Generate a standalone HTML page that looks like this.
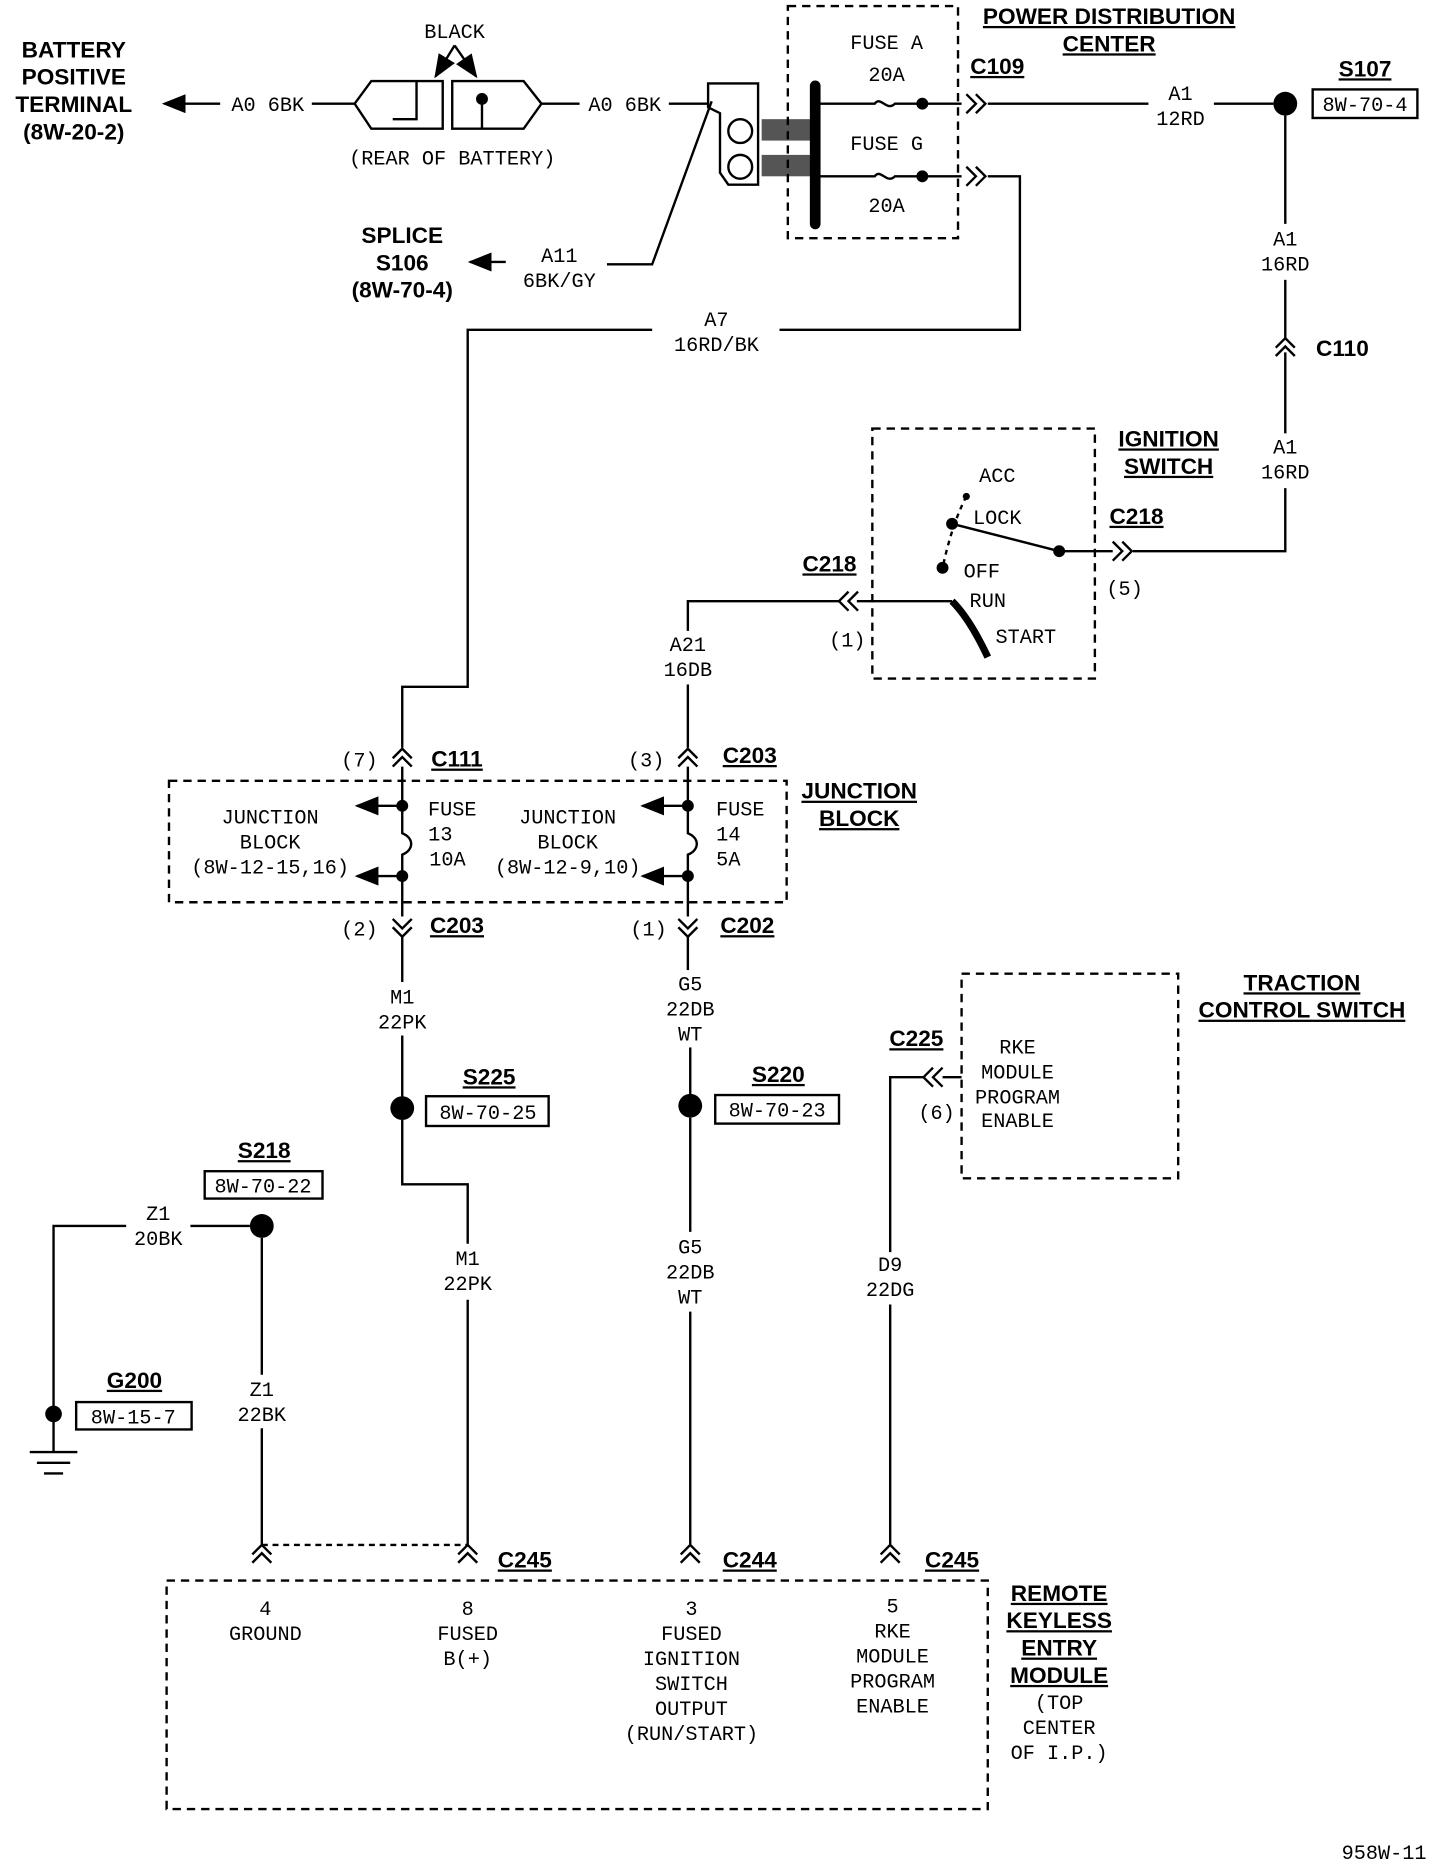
<!DOCTYPE html>
<html><head><meta charset="utf-8"><style>
html,body{margin:0;padding:0;background:#fff}
svg{display:block}
text{font-family:"Liberation Mono",monospace;font-size:17px;fill:#000;text-anchor:middle}
.b{font-family:"Liberation Sans",sans-serif;font-weight:bold;font-size:19px;text-decoration:underline}
.bn{font-family:"Liberation Sans",sans-serif;font-weight:bold;font-size:19px}
.l{stroke:#000;stroke-width:2;fill:none}
.d{stroke:#000;stroke-width:2;fill:none;stroke-dasharray:7,5}
.c{stroke:#000;stroke-width:2;fill:none}
</style></head><body>
<svg width="1440" height="1864" viewBox="0 0 1210 1566" xmlns="http://www.w3.org/2000/svg">
<defs>
<marker id="ah" markerWidth="10" markerHeight="8" refX="9" refY="4" orient="auto"><path d="M0,0 L10,4 L0,8 z" fill="#000"/></marker>
</defs>
<!-- battery -->
<text class="bn" x="62" y="48">BATTERY</text>
<text class="bn" x="62" y="71">POSITIVE</text>
<text class="bn" x="62" y="94">TERMINAL</text>
<text class="bn" x="62" y="117">(8W-20-2)</text>
<line class="l" x1="185" y1="87" x2="138" y2="87" marker-end="url(#ah)"/>
<text x="225" y="93">A0 6BK</text>
<line class="l" x1="262" y1="87" x2="298" y2="87"/>
<path class="l" d="M298,87 L312,68 L372,68 L372,108 L312,108 Z M350,68 L350,100 L330,100"/>
<path class="l" d="M380,68 L440,68 L455,87 L440,108 L380,108 Z M405,87 L405,108"/>
<circle cx="405" cy="83" r="5" fill="#000"/>
<text x="382" y="32">BLACK</text>
<line class="l" x1="382" y1="38" x2="366" y2="64" marker-end="url(#ah)"/>
<line class="l" x1="382" y1="38" x2="400" y2="64" marker-end="url(#ah)"/>
<text x="380" y="138">(REAR OF BATTERY)</text>
<line class="l" x1="455" y1="87" x2="487" y2="87"/>
<text x="525" y="93">A0 6BK</text>
<line class="l" x1="562" y1="87" x2="595" y2="87"/>
<path class="l" d="M595,70 L637,70 L637,155 L612,155 L605,145 L605,95 L595,90 Z"/>
<circle class="l" cx="622" cy="110" r="10"/>
<circle class="l" cx="622" cy="140" r="10"/>
<rect x="640" y="100" width="45" height="18" fill="#555"/>
<rect x="640" y="130" width="45" height="18" fill="#555"/>
<line x1="685" y1="72" x2="685" y2="188" stroke="#000" stroke-width="9" stroke-linecap="round"/>
<!-- splice S106 -->
<text class="bn" x="338" y="204">SPLICE</text>
<text class="bn" x="338" y="227">S106</text>
<text class="bn" x="338" y="250">(8W-70-4)</text>
<line class="l" x1="425" y1="220" x2="395" y2="220" marker-end="url(#ah)"/>
<text x="470" y="220">A11</text>
<text x="470" y="241">6BK/GY</text>
<path class="l" d="M510,222 L548,222 L598,85"/>
<!-- PDC -->
<rect class="d" x="662" y="5" width="143" height="195"/>
<text class="b" x="932" y="20">POWER DISTRIBUTION</text>
<text class="b" x="932" y="43">CENTER</text>
<text x="745" y="41">FUSE A</text>
<text x="745" y="68">20A</text>
<path class="l" d="M685,87 L735,87 C740,80 745,94 752,87 L775,87 L808,87"/>
<circle cx="775" cy="87" r="5" fill="#000"/>
<text x="745" y="126">FUSE G</text>
<text x="745" y="178">20A</text>
<path class="l" d="M685,148 L735,148 C740,141 745,155 752,148 L775,148 L808,148"/>
<circle cx="775" cy="148" r="5" fill="#000"/>
<path class="c" d="M812,79 L820,87 L812,95 M820,79 L828,87 L820,95"/>
<path class="c" d="M812,140 L820,148 L812,156 M820,140 L828,148 L820,156"/>
<text class="b" x="838" y="62">C109</text>
<line class="l" x1="830" y1="87" x2="965" y2="87"/>
<text x="992" y="84">A1</text>
<text x="992" y="105">12RD</text>
<line class="l" x1="1020" y1="87" x2="1070" y2="87"/>
<circle cx="1080" cy="87" r="10" fill="#000"/>
<text class="b" x="1147" y="64">S107</text>
<rect class="l" x="1103" y="75" width="88" height="24"/>
<text x="1147" y="93">8W-70-4</text>
<line class="l" x1="1080" y1="97" x2="1080" y2="188"/>
<text x="1080" y="206">A1</text>
<text x="1080" y="227">16RD</text>
<line class="l" x1="1080" y1="235" x2="1080" y2="284"/>
<path class="c" d="M1072,292 L1080,284 L1088,292 M1072,299 L1080,291 L1088,299"/>
<text class="bn" x="1128" y="299">C110</text>
<line class="l" x1="1080" y1="296" x2="1080" y2="364"/>
<text x="1080" y="381">A1</text>
<text x="1080" y="402">16RD</text>
<path class="l" d="M1080,410 L1080,463 L952,463"/>
<!-- A7 -->
<path class="l" d="M830,148 L857,148 L857,277 L655,277"/>
<text x="602" y="274">A7</text>
<text x="602" y="295">16RD/BK</text>
<path class="l" d="M548,277 L393,277 L393,577 L338,577 L338,628"/>
<!-- ignition switch -->
<rect class="d" x="733" y="360" width="187" height="210"/>
<text class="b" x="982" y="375">IGNITION</text>
<text class="b" x="982" y="398">SWITCH</text>
<text x="838" y="405">ACC</text>
<text x="838" y="440">LOCK</text>
<text x="825" y="485">OFF</text>
<text x="830" y="510">RUN</text>
<text x="862" y="540">START</text>
<path d="M812,417 Q800,440 792,477" stroke="#000" stroke-width="2" fill="none" stroke-dasharray="4,4"/>
<circle cx="812" cy="417" r="3" fill="#000"/>
<circle cx="800" cy="440" r="5" fill="#000"/>
<circle cx="792" cy="477" r="5" fill="#000"/>
<line class="l" x1="890" y1="463" x2="800" y2="440"/>
<circle cx="890" cy="463" r="5" fill="#000"/>
<line class="l" x1="890" y1="463" x2="935" y2="463"/>
<path class="c" d="M935,455 L943,463 L935,471 M943,455 L951,463 L943,471"/>
<text class="b" x="955" y="440">C218</text>
<text x="945" y="500">(5)</text>
<path class="l" d="M720,505 L800,505"/>
<path d="M800,505 Q815,520 830,552" stroke="#000" stroke-width="6" fill="none"/>
<path class="c" d="M713,497 L705,505 L713,513 M721,497 L713,505 L721,513"/>
<text class="b" x="697" y="480">C218</text>
<text x="712" y="543">(1)</text>
<path class="l" d="M705,505 L578,505 L578,530"/>
<text x="578" y="547">A21</text>
<text x="578" y="568">16DB</text>
<line class="l" x1="578" y1="575" x2="578" y2="628"/>
<!-- junction block -->
<path class="c" d="M330,637 L338,629 L346,637 M330,644 L338,636 L346,644"/>
<text x="302" y="644">(7)</text>
<text class="b" x="384" y="644">C111</text>
<path class="c" d="M570,637 L578,629 L586,637 M570,644 L578,636 L586,644"/>
<text x="543" y="644">(3)</text>
<text class="b" x="630" y="641">C203</text>
<rect class="d" x="142" y="656" width="519" height="102"/>
<text class="b" x="722" y="671">JUNCTION</text>
<text class="b" x="722" y="694">BLOCK</text>
<path class="l" d="M338,644 L338,677 L338,700 C348,704 348,714 338,718 L338,770"/>
<circle cx="338" cy="677" r="5" fill="#000"/>
<circle cx="338" cy="736" r="5" fill="#000"/>
<line class="l" x1="338" y1="677" x2="300" y2="677" marker-end="url(#ah)"/>
<line class="l" x1="338" y1="736" x2="300" y2="736" marker-end="url(#ah)"/>
<text x="227" y="692">JUNCTION</text>
<text x="227" y="713">BLOCK</text>
<text x="227" y="734">(8W-12-15,16)</text>
<text x="380" y="685">FUSE</text>
<text x="370" y="706">13</text>
<text x="376" y="727">10A</text>
<path class="l" d="M578,644 L578,677 L578,700 C588,704 588,714 578,718 L578,770"/>
<circle cx="578" cy="677" r="5" fill="#000"/>
<circle cx="578" cy="736" r="5" fill="#000"/>
<line class="l" x1="578" y1="677" x2="540" y2="677" marker-end="url(#ah)"/>
<line class="l" x1="578" y1="736" x2="540" y2="736" marker-end="url(#ah)"/>
<text x="477" y="692">JUNCTION</text>
<text x="477" y="713">BLOCK</text>
<text x="477" y="734">(8W-12-9,10)</text>
<text x="622" y="685">FUSE</text>
<text x="612" y="706">14</text>
<text x="612" y="727">5A</text>
<path class="c" d="M330,772 L338,780 L346,772 M330,779 L338,787 L346,779"/>
<text x="302" y="786">(2)</text>
<text class="b" x="384" y="784">C203</text>
<path class="c" d="M570,772 L578,780 L586,772 M570,779 L578,787 L586,779"/>
<text x="545" y="786">(1)</text>
<text class="b" x="628" y="784">C202</text>
<!-- M1 -->
<line class="l" x1="338" y1="787" x2="338" y2="825"/>
<text x="338" y="843">M1</text>
<text x="338" y="864">22PK</text>
<line class="l" x1="338" y1="870" x2="338" y2="925"/>
<circle cx="338" cy="931" r="10" fill="#000"/>
<text class="b" x="411" y="911">S225</text>
<rect class="l" x="358" y="921" width="103" height="25"/>
<text x="410" y="940">8W-70-25</text>
<path class="l" d="M338,941 L338,995 L393,995 L393,1045"/>
<text x="393" y="1063">M1</text>
<text x="393" y="1084">22PK</text>
<line class="l" x1="393" y1="1092" x2="393" y2="1298"/>
<!-- G5 -->
<line class="l" x1="578" y1="787" x2="578" y2="815"/>
<text x="580" y="832">G5</text>
<text x="580" y="853">22DB</text>
<text x="580" y="874">WT</text>
<line class="l" x1="580" y1="880" x2="580" y2="920"/>
<circle cx="580" cy="929" r="10" fill="#000"/>
<text class="b" x="654" y="909">S220</text>
<rect class="l" x="601" y="920" width="104" height="24"/>
<text x="653" y="938">8W-70-23</text>
<line class="l" x1="580" y1="939" x2="580" y2="1035"/>
<text x="580" y="1053">G5</text>
<text x="580" y="1074">22DB</text>
<text x="580" y="1095">WT</text>
<line class="l" x1="580" y1="1102" x2="580" y2="1298"/>
<!-- traction -->
<rect class="d" x="808" y="818" width="182" height="172"/>
<text class="b" x="1094" y="832">TRACTION</text>
<text class="b" x="1094" y="855">CONTROL SWITCH</text>
<text x="855" y="885">RKE</text>
<text x="855" y="906">MODULE</text>
<text x="855" y="927">PROGRAM</text>
<text x="855" y="947">ENABLE</text>
<text class="b" x="770" y="879">C225</text>
<path class="c" d="M784,897 L776,905 L784,913 M792,897 L784,905 L792,913"/>
<text x="787" y="940">(6)</text>
<path class="l" d="M792,905 L808,905 M776,905 L748,905 L748,1052"/>
<text x="748" y="1068">D9</text>
<text x="748" y="1089">22DG</text>
<line class="l" x1="748" y1="1096" x2="748" y2="1298"/>
<!-- S218 / G200 -->
<text class="b" x="222" y="973">S218</text>
<rect class="l" x="172" y="984" width="99" height="23"/>
<text x="221" y="1002">8W-70-22</text>
<circle cx="220" cy="1030" r="10" fill="#000"/>
<path class="l" d="M210,1030 L160,1030 M106,1030 L45,1030 L45,1220"/>
<text x="133" y="1025">Z1</text>
<text x="133" y="1046">20BK</text>
<circle cx="45" cy="1188" r="7" fill="#000"/>
<path class="l" d="M25,1220 L65,1220 M31,1229 L59,1229 M37,1238 L53,1238"/>
<text class="b" x="113" y="1166">G200</text>
<rect class="l" x="64" y="1178" width="97" height="23"/>
<text x="112" y="1196">8W-15-7</text>
<line class="l" x1="220" y1="1040" x2="220" y2="1155"/>
<text x="220" y="1173">Z1</text>
<text x="220" y="1194">22BK</text>
<line class="l" x1="220" y1="1200" x2="220" y2="1298"/>
<!-- bottom connectors -->
<path d="M220,1298 L393,1298" stroke="#000" stroke-width="2" stroke-dasharray="5,4"/>
<path class="c" d="M212,1306 L220,1298 L228,1306 M212,1313 L220,1305 L228,1313"/>
<path class="c" d="M385,1306 L393,1298 L401,1306 M385,1313 L393,1305 L401,1313"/>
<path class="c" d="M572,1306 L580,1298 L588,1306 M572,1313 L580,1305 L588,1313"/>
<path class="c" d="M740,1306 L748,1298 L756,1306 M740,1313 L748,1305 L756,1313"/>
<text class="b" x="441" y="1317">C245</text>
<text class="b" x="630" y="1317">C244</text>
<text class="b" x="800" y="1317">C245</text>
<rect class="d" x="140" y="1328" width="690" height="192"/>
<text x="223" y="1357">4</text>
<text x="223" y="1378">GROUND</text>
<text x="393" y="1357">8</text>
<text x="393" y="1378">FUSED</text>
<text x="393" y="1399">B(+)</text>
<text x="581" y="1357">3</text>
<text x="581" y="1378">FUSED</text>
<text x="581" y="1399">IGNITION</text>
<text x="581" y="1420">SWITCH</text>
<text x="581" y="1441">OUTPUT</text>
<text x="581" y="1462">(RUN/START)</text>
<text x="750" y="1355">5</text>
<text x="750" y="1376">RKE</text>
<text x="750" y="1397">MODULE</text>
<text x="750" y="1418">PROGRAM</text>
<text x="750" y="1439">ENABLE</text>
<text class="b" x="890" y="1345">REMOTE</text>
<text class="b" x="890" y="1368">KEYLESS</text>
<text class="b" x="890" y="1391">ENTRY</text>
<text class="b" x="890" y="1414">MODULE</text>
<text x="890" y="1436">(TOP</text>
<text x="890" y="1457">CENTER</text>
<text x="890" y="1478">OF I.P.)</text>
<text x="1163" y="1562">958W-11</text>
</svg>
</body></html>
